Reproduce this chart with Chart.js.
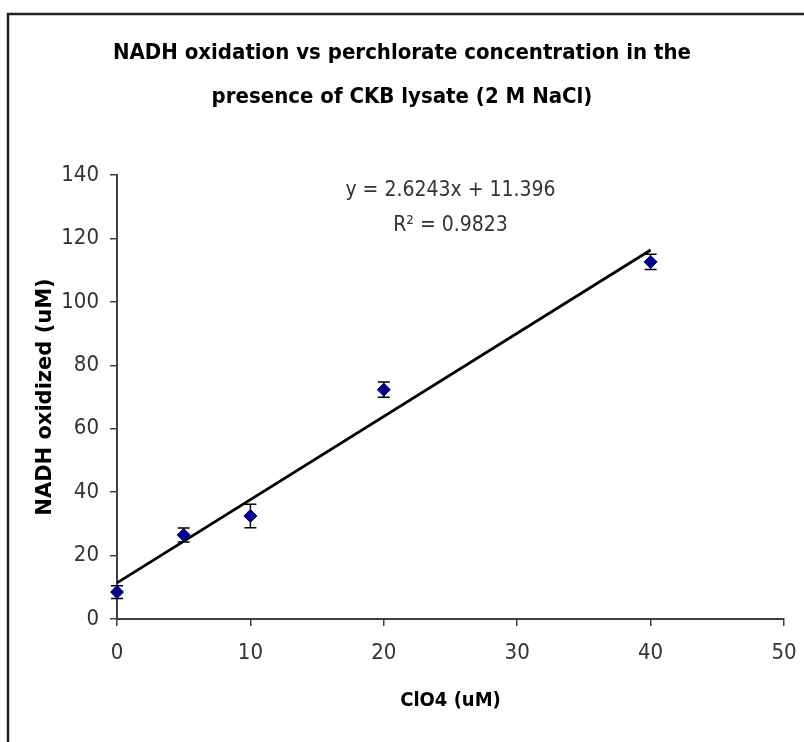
<!DOCTYPE html>
<html>
<head>
<meta charset="utf-8">
<script src="https://cdn.jsdelivr.net/npm/chart.js@4"></script>
<style>
html, body { margin: 0; padding: 0; background: #fff; }
</style>
</head>
<body>
<canvas id="nadhCanvas" width="804" height="742"></canvas>
<script>
// data
const clo4 = [0, 5, 10, 20, 40];
const nadh = [8.5, 26.5, 32.5, 72.3, 112.6];
const nadhErr = [2, 2.2, 3.7, 2.4, 2.4];

// linear fit shown on the chart
const slope = 2.6243;
const intercept = 11.396;
const rSquared = 0.9823;
const fitRange = [0, 40];

const xTickValues = [0, 10, 20, 30, 40, 50];
const yTickValues = [0, 20, 40, 60, 80, 100, 120, 140];

const narrow = '"Liberation Sans Narrow", "Arial Narrow", "DejaVu Sans Condensed", sans-serif';
Chart.defaults.font.family = narrow;

// black error bars with caps, under the markers
const errorBars = {
    id: "errorBars",
    beforeDatasetsDraw(chart) {
        const { ctx, scales: { x, y } } = chart;
        ctx.save();
        ctx.strokeStyle = "#000";
        ctx.lineWidth = 1.5;
        clo4.forEach((cx, i) => {
            const px = x.getPixelForValue(cx);
            const top = y.getPixelForValue(nadh[i] + nadhErr[i]);
            const bot = y.getPixelForValue(nadh[i] - nadhErr[i]);
            ctx.beginPath();
            ctx.moveTo(px, top); ctx.lineTo(px, bot);
            ctx.moveTo(px - 6, top); ctx.lineTo(px + 6, top);
            ctx.moveTo(px - 6, bot); ctx.lineTo(px + 6, bot);
            ctx.stroke();
        });
        ctx.restore();
    }
};

// outer frame and the trendline equation
const frameAndLabel = {
    id: "frameAndLabel",
    beforeDraw(chart) {
        const ctx = chart.ctx;
        ctx.save();
        ctx.fillStyle = "#fff";
        ctx.fillRect(0, 0, chart.width, chart.height);
        ctx.strokeStyle = "#222";
        ctx.lineWidth = 2.5;
        ctx.strokeRect(8, 14, 900, 900);
        ctx.restore();
    },
    afterDraw(chart) {
        const { ctx, scales: { x, y } } = chart;
        const cx = x.getPixelForValue(25);
        const cy = y.getPixelForValue(135);
        ctx.save();
        ctx.fillStyle = "#333";
        ctx.font = "21px " + narrow;
        ctx.textAlign = "center";
        ctx.textBaseline = "middle";
        ctx.fillText("y = " + slope + "x + " + intercept, cx, cy);
        ctx.fillText("R\u00B2 = " + rSquared, cx, cy + 35);
        ctx.restore();
    }
};

const nadhChart = new Chart(document.getElementById("nadhCanvas"), {
    type: "scatter",
    data: {
        datasets: [
            {
                label: "NADH oxidized",
                data: clo4.map((v, i) => ({ x: v, y: nadh[i] })),
                pointStyle: "rectRot",
                pointRadius: 6.5,
                backgroundColor: "#00008B",
                borderColor: "#00008B",
                clip: false,
            },
            {
                label: "Linear fit",
                data: fitRange.map(v => ({ x: v, y: slope * v + intercept })),
                showLine: true,
                borderColor: "#000",
                borderWidth: 2.8,
                pointRadius: 0,
                clip: false,
            },
        ],
    },
    options: {
        responsive: false,
        animation: false,
        layout: { padding: 0 },
        plugins: {
            legend: { display: false },
            tooltip: { enabled: false },
            title: {
                display: true,
                text: [
                    "NADH oxidation vs perchlorate concentration in the",
                    "presence of CKB lysate (2 M NaCl)",
                ],
                color: "#000",
                font: { family: narrow, size: 22, weight: "bold", lineHeight: 2.0 },
                padding: { top: 31, bottom: 56 },
            },
        },
        scales: {
            x: {
                type: "linear",
                min: 0,
                max: 50,
                afterFit(s) { s.height = 123; s.paddingRight = 20; },
                afterBuildTicks(s) { s.ticks = xTickValues.map(v => ({ value: v })); },
                border: { display: true, color: "#404040", width: 2 },
                grid: { drawOnChartArea: false, drawTicks: true, tickLength: 7, color: "#404040", lineWidth: 1.5 },
                ticks: { color: "#333", font: { size: 22 }, padding: 14, maxRotation: 0 },
                title: {
                    display: true,
                    text: "ClO4 (uM)",
                    color: "#000",
                    font: { family: narrow, size: 20, weight: "bold" },
                    padding: { top: 0, bottom: 29 },
                },
            },
            y: {
                type: "linear",
                min: 0,
                max: 140,
                afterFit(s) { s.width = 117; },
                afterBuildTicks(s) { s.ticks = yTickValues.map(v => ({ value: v })); },
                border: { display: true, color: "#404040", width: 2 },
                grid: { drawOnChartArea: false, drawTicks: true, tickLength: 7, color: "#404040", lineWidth: 1.5 },
                ticks: { color: "#333", font: { size: 22 }, padding: 11 },
                title: {
                    display: true,
                    text: "NADH oxidized (uM)",
                    color: "#000",
                    font: { family: "DejaVu Sans", size: 21, weight: "bold" },
                    padding: { top: 33, bottom: 0 },
                },
            },
        },
    },
    plugins: [errorBars, frameAndLabel],
});
</script>
</body>
</html>
